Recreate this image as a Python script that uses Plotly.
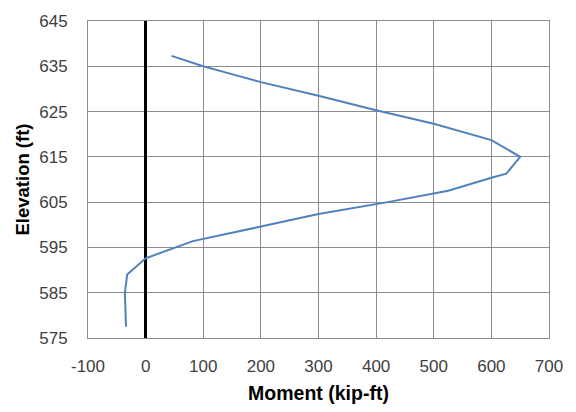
import plotly.graph_objects as go

# Bending moment profile along the pile
moment_kipft = [45, 100, 140, 200, 300, 400, 500, 600, 650, 626, 600, 525, 420, 300, 200, 82, 0, -32, -36, -34]
elevation_ft = [637.3, 635.0, 633.6, 631.5, 628.5, 625.3, 622.3, 618.7, 615.0, 611.3, 610.4, 607.5, 605.0, 602.4, 599.6, 596.4, 592.6, 589.0, 585.0, 577.5]

x_ticks = [-100, 0, 100, 200, 300, 400, 500, 600, 700]
y_ticks = [575, 585, 595, 605, 615, 625, 635, 645]

font_family = "Liberation Sans"
grid_color = "#8c8c8c"
text_color = "#404040"

fig = go.Figure()
fig.add_trace(go.Scatter(
    x=moment_kipft, y=elevation_ft, mode="lines",
    line=dict(color="#4f81bd", width=2),
    showlegend=False,
))

fig.update_layout(
    width=576, height=412,
    margin=dict(l=88, r=27, t=16, b=74),
    paper_bgcolor="white", plot_bgcolor="white",
    font=dict(family=font_family, size=17, color=text_color),
    xaxis=dict(
        range=[-100, 700], tickvals=x_ticks,
        ticktext=[str(v) for v in x_ticks],
        showgrid=True, gridcolor=grid_color, gridwidth=1,
        showline=True, linecolor=grid_color, linewidth=1, mirror=True,
        zeroline=True, zerolinecolor="black", zerolinewidth=2.5,
        ticks="outside", ticklen=13, tickcolor="rgba(0,0,0,0)",
        title=dict(text="<b>Moment (kip-ft)</b>", font=dict(size=19.5, color="black"), standoff=10),
    ),
    yaxis=dict(
        range=[575, 645], tickvals=y_ticks,
        showgrid=True, gridcolor=grid_color, gridwidth=1,
        showline=True, linecolor=grid_color, linewidth=1, mirror=True,
        zeroline=False,
        ticks="outside", ticklen=16, tickcolor="rgba(0,0,0,0)",
        title=dict(text="<b>Elevation (ft)</b>", font=dict(size=18.5, color="black"), standoff=4),
    ),
)

fig.write_html("out.html")
